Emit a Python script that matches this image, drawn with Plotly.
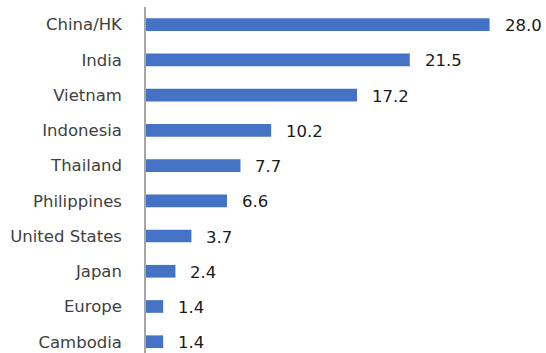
import plotly.graph_objects as go

categories = ["China/HK", "India", "Vietnam", "Indonesia", "Thailand",
              "Philippines", "United States", "Japan", "Europe", "Cambodia"]
values = [28.0, 21.5, 17.2, 10.2, 7.7, 6.6, 3.7, 2.4, 1.4, 1.4]
value_labels = [f"{v:.1f}" for v in values]

FONT = "DejaVu Sans"

fig = go.Figure(go.Bar(
    x=values, y=categories, orientation="h",
    marker=dict(color="#4472C4", line=dict(width=0)),
    width=0.36, hoverinfo="skip",
))

for c, v, t in zip(categories, values, value_labels):
    fig.add_annotation(x=v, y=c, text=t, showarrow=False, xanchor="left",
                       xshift=13, yshift=-1,
                       font=dict(family=FONT, size=16.5, color="#1a1a1a"))

fig.update_layout(
    width=546, height=353,
    margin=dict(l=146, r=0, t=7, b=0),
    paper_bgcolor="white", plot_bgcolor="white",
    showlegend=False,
    xaxis=dict(range=[0, 32.6], visible=False, fixedrange=True),
    yaxis=dict(categoryorder="array", categoryarray=categories,
               range=[9.32, -0.5], showline=True, linecolor="#A6A6A6",
               linewidth=1.5, showgrid=False, ticks="", ticklabelstandoff=19,
               tickfont=dict(family=FONT, size=16.5, color="#404040")),
)

fig.write_html("out.html")
